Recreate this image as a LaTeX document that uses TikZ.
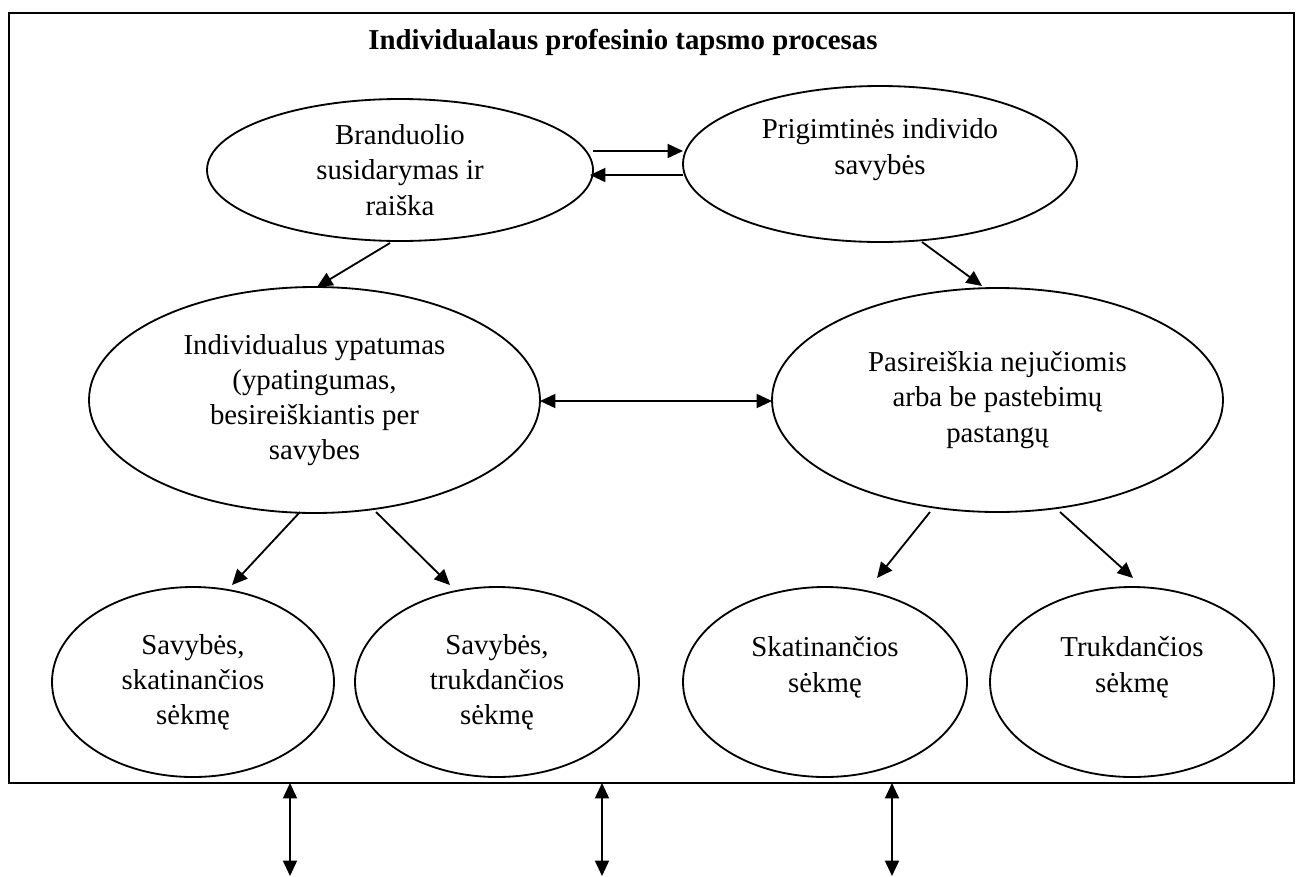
\documentclass[tikz,border=0pt]{standalone}
\usepackage{fontspec}
\setmainfont{Liberation Serif}
\usetikzlibrary{arrows.meta,shapes.geometric}
\begin{document}
\begin{tikzpicture}[x=0.025cm,y=-0.025cm,
  every node/.style={font=\fontsize{20.5}{25}\selectfont},
  tip/.tip={Triangle[length=11pt,width=10pt]},
  oval/.style={ellipse,draw,line width=1.3pt,inner sep=0pt,align=center},
  arr/.style={line width=1.3pt,-tip},
  darr/.style={line width=1.3pt,tip-tip}]
\useasboundingbox (0,0) rectangle (1301,876);
% outer frame
\draw[line width=2pt] (9,13) rectangle (1294,783);
\node[font=\fontsize{20.5}{25}\selectfont\bfseries] (title) at (623,42) {Individualaus profesinio tapsmo procesas};

% ellipses
\node[oval,minimum width=386*0.025cm,minimum height=142*0.025cm] (b) at (400,170)
  {Branduolio\\ susidarymas ir\\ raiška};
\node[oval,minimum width=394*0.025cm,minimum height=156*0.025cm] (p) at (880,164)
  {Prigimtinės individo\\ savybės\\ \mbox{}};
\node[oval,minimum width=451*0.025cm,minimum height=226*0.025cm] (i) at (314.5,400)
  {Individualus ypatumas\\ (ypatingumas,\\ besireiškiantis per\\ savybes};
\node[oval,minimum width=451*0.025cm,minimum height=224*0.025cm] (n) at (997.5,400)
  {Pasireiškia nejučiomis\\ arba be pastebimų\\ pastangų};
\node[oval,minimum width=282*0.025cm,minimum height=190*0.025cm] (s1) at (193,682)
  {Savybės,\\ skatinančios\\ sėkmę};
\node[oval,minimum width=284*0.025cm,minimum height=190*0.025cm] (s2) at (497,682)
  {Savybės,\\ trukdančios\\ sėkmę};
\node[oval,minimum width=284*0.025cm,minimum height=190*0.025cm] (s3) at (825,682)
  {Skatinančios\\ sėkmę\\ \mbox{}};
\node[oval,minimum width=284*0.025cm,minimum height=190*0.025cm] (s4) at (1132,682)
  {Trukdančios\\ sėkmę\\ \mbox{}};

% connector end points
\coordinate (b1) at (593,151); \coordinate (p1) at (683,151);
\coordinate (p2) at (683,175); \coordinate (b2) at (590,175);
\coordinate (b3) at (390,243); \coordinate (i1) at (317,287);
\coordinate (p3) at (922,242); \coordinate (n1) at (982,286);
\coordinate (i2) at (540,401); \coordinate (n2) at (772,401);
\coordinate (i3) at (300,512); \coordinate (s1t) at (232,585);
\coordinate (i4) at (376,512); \coordinate (s2t) at (450,585);
\coordinate (n3) at (930,512); \coordinate (s3t) at (877,578);
\coordinate (n4) at (1060,512); \coordinate (s4t) at (1133,578);
\coordinate (f1) at (290,783); \coordinate (o1) at (290,876);
\coordinate (f2) at (602,783); \coordinate (o2) at (602,876);
\coordinate (f3) at (892,783); \coordinate (o3) at (892,876);

\draw[arr] (b1) -- (p1);
\draw[arr] (p2) -- (b2);
\draw[arr] (b3) -- (i1);
\draw[arr] (p3) -- (n1);
\draw[darr] (i2) -- (n2);
\draw[arr] (i3) -- (s1t);
\draw[arr] (i4) -- (s2t);
\draw[arr] (n3) -- (s3t);
\draw[arr] (n4) -- (s4t);
\draw[darr] (f1) -- (o1);
\draw[darr] (f2) -- (o2);
\draw[darr] (f3) -- (o3);
\end{tikzpicture}
\end{document}
